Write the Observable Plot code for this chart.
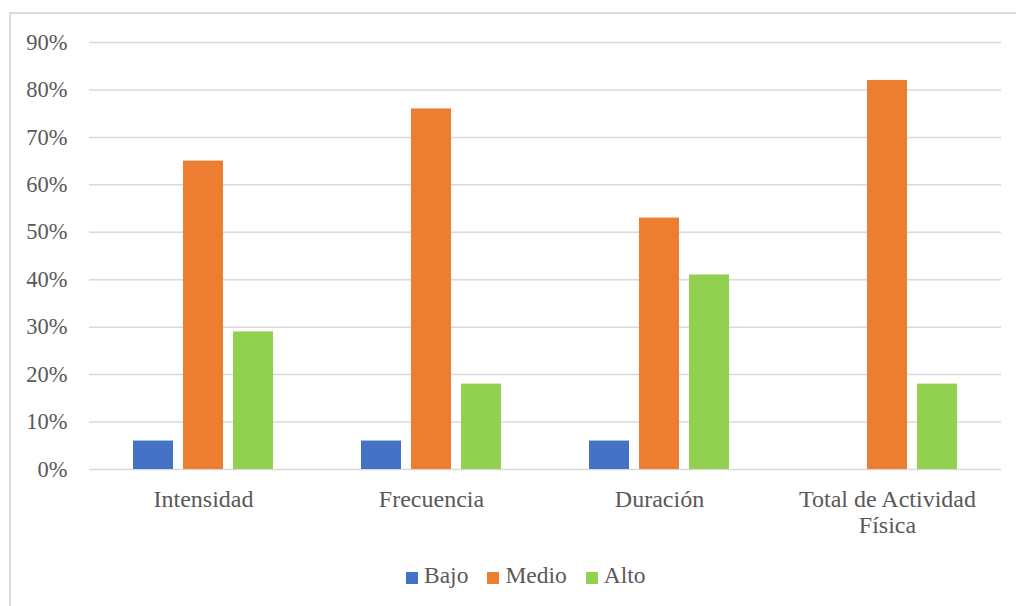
<!DOCTYPE html>
<html>
<head>
<meta charset="utf-8">
<script src="https://cdn.jsdelivr.net/npm/d3@7"></script>
<script src="https://cdn.jsdelivr.net/npm/@observablehq/plot@0.6"></script>
<style>
  html, body { margin: 0; padding: 0; background: #fff; overflow: hidden; }
  #frame { position: absolute; left: 9px; top: 12px; width: 1100px; height: 700px;
           border-left: 2px solid #d9d9d9; border-top: 2px solid #d9d9d9; }
  #chart { position: absolute; left: 0; top: 0; }
  #legend { position: absolute; left: 406px; top: 562px; font-family: "Liberation Serif", "Times New Roman", serif;
            font-size: 23.5px; line-height: 27px; color: #595959; display: flex; align-items: center; white-space: nowrap; }
  .item { display: flex; align-items: center; margin-right: 19px; }
  .sw { width: 12px; height: 12px; margin-right: 6px; display: inline-block; position: relative; top: 2px; }
  svg text { font-family: "Liberation Serif", "Times New Roman", serif; font-variant: normal; }
</style>
</head>
<body>
<div id="frame"></div>
<div id="chart"></div>
<div id="legend"></div>
<script>
const categories = ["Intensidad", "Frecuencia", "Duración", "Total de Actividad\nFísica"];
const series = ["Bajo", "Medio", "Alto"];
const colors = ["#4472C4", "#ED7D31", "#92D050"];
const bajo = [0.06, 0.06, 0.06, 0.0];
const medio = [0.65, 0.76, 0.53, 0.82];
const alto = [0.29, 0.18, 0.41, 0.18];
const yTicks = [0, 0.1, 0.2, 0.3, 0.4, 0.5, 0.6, 0.7, 0.8, 0.9];

const values = [bajo, medio, alto];
const data = [];
categories.forEach((c, i) => {
  series.forEach((s, j) => data.push({category: c, serie: s, value: values[j][i]}));
});

const plot = Plot.plot({
  width: 1016,
  height: 560,
  marginLeft: 89,
  marginRight: 15,
  marginTop: 42,
  marginBottom: 91,
  style: {fontFamily: "'Liberation Serif', 'Times New Roman', serif", fontSize: "22.5px", color: "#595959", background: "transparent"},
  fx: {domain: categories, padding: 0, label: null, axis: null},
  x: {domain: series, paddingInner: 0.208, paddingOuter: 0.86, axis: null},
  y: {domain: [0, 0.9], label: null},
  color: {domain: series, range: colors},
  marks: [
    Plot.ruleY(yTicks, {stroke: "#d9d9d9", strokeWidth: 1.5}),
    Plot.axisY({ticks: yTicks, tickFormat: d3.format(".0%"), tickSize: 0, tickPadding: 22, label: null, fill: "#595959", fontSize: 22.5}),
    Plot.axisFx({anchor: "bottom", tickSize: 0, tickPadding: 19, label: null, lineHeight: 1.09, fill: "#595959", fontSize: 24}),
    Plot.barY(data, {fx: "category", x: "serie", y: "value", fill: "serie"})
  ]
});
document.getElementById("chart").appendChild(plot);

const legend = document.getElementById("legend");
series.forEach((s, i) => {
  const item = document.createElement("div");
  item.className = "item";
  const sw = document.createElement("span");
  sw.className = "sw";
  sw.style.background = colors[i];
  item.appendChild(sw);
  item.appendChild(document.createTextNode(s));
  legend.appendChild(item);
});
</script>
</body>
</html>
